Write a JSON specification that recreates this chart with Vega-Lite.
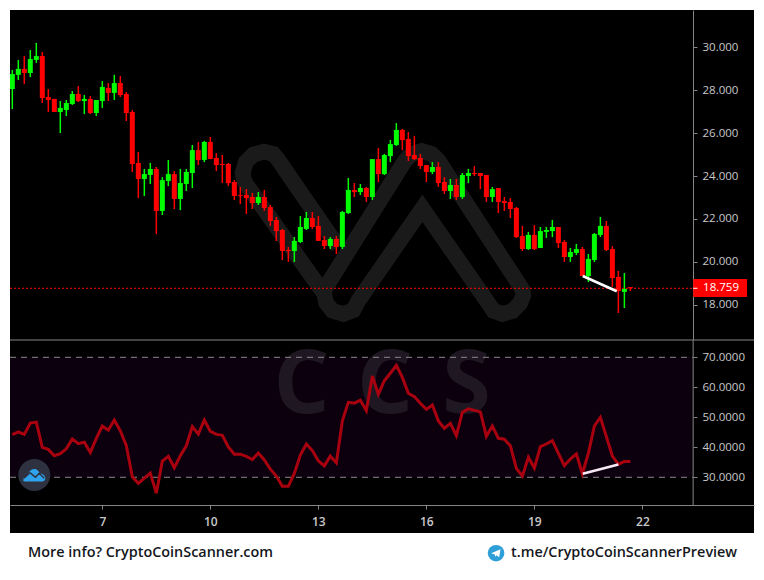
{"$schema":"https://vega.github.io/schema/vega-lite/v6.json","background":"#ffffff","padding":{"left":9,"top":10,"right":11,"bottom":0},"spacing":0,"bounds":"flush","config":{"font":"Open Sans","view":{"stroke":null},"axis":{"grid":false,"title":null,"domainColor":"#858585","tickColor":"#858585","labelColor":"#c9c9c9","labelFontSize":11.5,"labelFont":"Open Sans","domainWidth":1,"tickSize":4}},
"datasets":{"candles":[
{"day":4.5,"open":28.06,"high":28.95,"low":27.13,"close":28.76,"rsi":44.2},
{"day":4.667,"open":28.72,"high":29.42,"low":28.48,"close":29.0,"rsi":45.1},
{"day":4.833,"open":29.0,"high":29.6,"low":28.3,"close":28.81,"rsi":44.3},
{"day":5,"open":28.81,"high":29.88,"low":28.62,"close":29.46,"rsi":48.1},
{"day":5.167,"open":29.42,"high":30.21,"low":29.28,"close":29.6,"rsi":48.4},
{"day":5.333,"open":29.6,"high":29.79,"low":27.41,"close":27.64,"rsi":40.0},
{"day":5.5,"open":27.69,"high":28.06,"low":26.99,"close":27.55,"rsi":39.3},
{"day":5.667,"open":27.6,"high":27.6,"low":26.99,"close":26.99,"rsi":37.2},
{"day":5.833,"open":26.99,"high":27.5,"low":26.01,"close":27.18,"rsi":37.9},
{"day":6,"open":27.08,"high":27.55,"low":26.8,"close":27.41,"rsi":39.5},
{"day":6.167,"open":27.36,"high":27.97,"low":27.32,"close":27.83,"rsi":42.8},
{"day":6.333,"open":27.83,"high":28.2,"low":27.46,"close":27.5,"rsi":41.2},
{"day":6.5,"open":27.5,"high":27.78,"low":26.89,"close":27.6,"rsi":41.7},
{"day":6.667,"open":27.6,"high":27.74,"low":26.89,"close":26.94,"rsi":38.3},
{"day":6.833,"open":26.94,"high":27.55,"low":26.8,"close":27.55,"rsi":43.0},
{"day":7,"open":27.5,"high":28.43,"low":27.18,"close":28.16,"rsi":47.1},
{"day":7.167,"open":28.11,"high":28.34,"low":27.5,"close":27.88,"rsi":45.7},
{"day":7.333,"open":27.88,"high":28.72,"low":27.55,"close":28.34,"rsi":49.1},
{"day":7.5,"open":28.34,"high":28.67,"low":27.69,"close":27.78,"rsi":45.5},
{"day":7.667,"open":27.83,"high":27.92,"low":26.57,"close":26.94,"rsi":40.5},
{"day":7.833,"open":26.99,"high":27.08,"low":24.19,"close":24.56,"rsi":30.2},
{"day":8,"open":24.61,"high":25.12,"low":22.97,"close":23.86,"rsi":28.0},
{"day":8.167,"open":23.86,"high":24.33,"low":23.07,"close":24.09,"rsi":29.7},
{"day":8.333,"open":24.05,"high":24.61,"low":23.63,"close":24.33,"rsi":31.4},
{"day":8.5,"open":24.33,"high":24.42,"low":21.29,"close":22.37,"rsi":24.7},
{"day":8.667,"open":22.37,"high":23.95,"low":22.18,"close":23.81,"rsi":35.4},
{"day":8.833,"open":23.77,"high":24.75,"low":23.53,"close":24.09,"rsi":37.0},
{"day":9,"open":24.09,"high":24.23,"low":22.46,"close":22.93,"rsi":33.2},
{"day":9.167,"open":22.93,"high":24.33,"low":22.41,"close":23.67,"rsi":37.2},
{"day":9.333,"open":23.63,"high":24.33,"low":23.3,"close":24.19,"rsi":40.5},
{"day":9.5,"open":24.14,"high":25.45,"low":23.44,"close":25.21,"rsi":46.9},
{"day":9.667,"open":25.21,"high":25.59,"low":24.51,"close":24.75,"rsi":44.4},
{"day":9.833,"open":24.75,"high":25.64,"low":24.65,"close":25.59,"rsi":49.1},
{"day":10,"open":25.59,"high":25.82,"low":24.79,"close":24.79,"rsi":45.3},
{"day":10.167,"open":24.84,"high":25.07,"low":24.23,"close":24.51,"rsi":44.3},
{"day":10.333,"open":24.56,"high":24.98,"low":23.67,"close":24.51,"rsi":44.0},
{"day":10.5,"open":24.56,"high":24.61,"low":23.53,"close":23.67,"rsi":40.1},
{"day":10.667,"open":23.72,"high":23.81,"low":22.88,"close":23.07,"rsi":37.7},
{"day":10.833,"open":23.11,"high":23.49,"low":22.69,"close":23.07,"rsi":37.7},
{"day":11,"open":23.11,"high":23.39,"low":22.23,"close":22.97,"rsi":37.0},
{"day":11.167,"open":23.02,"high":23.21,"low":22.46,"close":22.74,"rsi":35.9},
{"day":11.333,"open":22.74,"high":23.25,"low":22.65,"close":23.02,"rsi":38.1},
{"day":11.5,"open":23.02,"high":23.35,"low":22.37,"close":22.51,"rsi":35.8},
{"day":11.667,"open":22.55,"high":22.65,"low":21.67,"close":21.9,"rsi":32.7},
{"day":11.833,"open":21.95,"high":22.09,"low":20.97,"close":21.43,"rsi":30.4},
{"day":12,"open":21.48,"high":21.53,"low":20.08,"close":20.5,"rsi":27.0},
{"day":12.167,"open":20.55,"high":20.69,"low":19.99,"close":20.5,"rsi":27.0},
{"day":12.333,"open":20.5,"high":21.15,"low":19.99,"close":20.97,"rsi":31.3},
{"day":12.5,"open":20.92,"high":22.13,"low":20.87,"close":21.62,"rsi":37.4},
{"day":12.667,"open":21.53,"high":22.32,"low":21.48,"close":22.04,"rsi":41.1},
{"day":12.833,"open":22.04,"high":22.32,"low":21.53,"close":21.62,"rsi":38.9},
{"day":13,"open":21.67,"high":22.13,"low":20.97,"close":20.97,"rsi":35.5},
{"day":13.167,"open":21.01,"high":21.2,"low":20.59,"close":20.73,"rsi":33.8},
{"day":13.333,"open":20.73,"high":21.15,"low":20.59,"close":21.06,"rsi":37.1},
{"day":13.5,"open":21.06,"high":21.2,"low":20.36,"close":20.69,"rsi":34.8},
{"day":13.667,"open":20.69,"high":22.37,"low":20.59,"close":22.32,"rsi":48.8},
{"day":13.833,"open":22.27,"high":23.91,"low":22.23,"close":23.35,"rsi":55.0},
{"day":14,"open":23.35,"high":23.67,"low":23.02,"close":23.25,"rsi":54.7},
{"day":14.167,"open":23.25,"high":23.63,"low":23.11,"close":23.44,"rsi":55.7},
{"day":14.333,"open":23.44,"high":23.49,"low":22.79,"close":23.02,"rsi":52.2},
{"day":14.5,"open":23.02,"high":24.79,"low":22.88,"close":24.79,"rsi":63.8},
{"day":14.667,"open":24.79,"high":25.31,"low":23.72,"close":24.09,"rsi":57.7},
{"day":14.833,"open":24.09,"high":25.03,"low":24.05,"close":24.98,"rsi":62.2},
{"day":15,"open":24.93,"high":25.68,"low":24.65,"close":25.49,"rsi":64.7},
{"day":15.167,"open":25.45,"high":26.47,"low":25.4,"close":26.15,"rsi":67.3},
{"day":15.333,"open":26.15,"high":26.2,"low":25.21,"close":25.68,"rsi":63.3},
{"day":15.5,"open":25.73,"high":26.05,"low":24.7,"close":24.93,"rsi":58.0},
{"day":15.667,"open":24.98,"high":25.87,"low":24.75,"close":24.79,"rsi":56.9},
{"day":15.833,"open":24.84,"high":25.03,"low":24.33,"close":24.47,"rsi":54.7},
{"day":16,"open":24.51,"high":24.51,"low":23.72,"close":24.19,"rsi":52.7},
{"day":16.167,"open":24.19,"high":24.65,"low":24.09,"close":24.42,"rsi":54.1},
{"day":16.333,"open":24.42,"high":24.65,"low":23.49,"close":23.67,"rsi":48.8},
{"day":16.5,"open":23.72,"high":23.95,"low":23.16,"close":23.3,"rsi":46.3},
{"day":16.667,"open":23.3,"high":23.86,"low":22.93,"close":23.58,"rsi":48.0},
{"day":16.833,"open":23.58,"high":23.86,"low":22.88,"close":23.02,"rsi":43.9},
{"day":17,"open":23.02,"high":24.14,"low":22.93,"close":24.05,"rsi":51.7},
{"day":17.167,"open":24.0,"high":24.33,"low":23.67,"close":24.14,"rsi":52.8},
{"day":17.333,"open":24.14,"high":24.47,"low":24.0,"close":24.09,"rsi":52.3},
{"day":17.5,"open":24.14,"high":24.14,"low":23.39,"close":24.0,"rsi":51.8},
{"day":17.667,"open":24.05,"high":24.05,"low":22.79,"close":23.02,"rsi":43.7},
{"day":17.833,"open":23.02,"high":23.49,"low":22.79,"close":23.39,"rsi":47.1},
{"day":18,"open":23.44,"high":23.44,"low":22.27,"close":22.79,"rsi":43.0},
{"day":18.167,"open":22.83,"high":23.02,"low":22.37,"close":22.74,"rsi":42.7},
{"day":18.333,"open":22.79,"high":22.97,"low":22.04,"close":22.46,"rsi":40.5},
{"day":18.5,"open":22.51,"high":22.55,"low":21.11,"close":21.15,"rsi":33.0},
{"day":18.667,"open":21.2,"high":21.67,"low":20.5,"close":20.59,"rsi":30.4},
{"day":18.833,"open":20.59,"high":21.39,"low":20.55,"close":21.25,"rsi":36.7},
{"day":19,"open":21.25,"high":21.71,"low":20.55,"close":20.59,"rsi":33.1},
{"day":19.167,"open":20.64,"high":21.62,"low":20.64,"close":21.43,"rsi":40.2},
{"day":19.333,"open":21.39,"high":21.62,"low":21.11,"close":21.48,"rsi":41.1},
{"day":19.5,"open":21.43,"high":21.95,"low":21.15,"close":21.62,"rsi":42.2},
{"day":19.667,"open":21.62,"high":21.62,"low":20.64,"close":20.87,"rsi":38.0},
{"day":19.833,"open":20.92,"high":21.01,"low":19.99,"close":20.22,"rsi":33.9},
{"day":20,"open":20.22,"high":20.64,"low":19.99,"close":20.45,"rsi":36.1},
{"day":20.167,"open":20.41,"high":20.83,"low":20.31,"close":20.59,"rsi":37.8},
{"day":20.333,"open":20.59,"high":20.69,"low":19.33,"close":19.33,"rsi":31.2},
{"day":20.5,"open":19.33,"high":20.36,"low":19.05,"close":20.13,"rsi":38.0},
{"day":20.667,"open":20.08,"high":21.34,"low":19.99,"close":21.29,"rsi":47.1},
{"day":20.833,"open":21.25,"high":22.09,"low":21.15,"close":21.67,"rsi":50.0},
{"day":21,"open":21.67,"high":21.9,"low":20.5,"close":20.55,"rsi":43.5},
{"day":21.167,"open":20.59,"high":20.73,"low":18.82,"close":19.24,"rsi":37.1},
{"day":21.333,"open":19.29,"high":19.57,"low":17.61,"close":18.63,"rsi":34.3},
{"day":21.5,"open":18.59,"high":19.47,"low":17.84,"close":18.73,"rsi":35.3},
{"day":21.667,"open":18.82,"high":18.82,"low":18.63,"close":18.76,"rsi":35.3}
],
"logo":[
{"k":1,"day":13.547,"v":20.7},{"k":2,"day":11.954,"v":24.59},{"k":3,"day":11.89,"v":24.75},{"k":4,"day":11.75,"v":25.03},{"k":5,"day":11.49,"v":25.14},{"k":6,"day":11.195,"v":25.0},{"k":7,"day":10.982,"v":24.64},{"k":8,"day":10.899,"v":24.14},{"k":9,"day":10.936,"v":23.81},{"k":10,"day":11.01,"v":23.58},{"k":11,"day":13.158,"v":18.52},{"k":12,"day":13.214,"v":18.09},{"k":13,"day":13.39,"v":17.71},{"k":14,"day":13.695,"v":17.56},{"k":15,"day":13.973,"v":17.74},{"k":16,"day":14.112,"v":18.18},{"k":17,"day":15.89,"v":22.49},{"k":18,"day":17.723,"v":18.06},{"k":19,"day":17.862,"v":17.71},{"k":20,"day":18.112,"v":17.56},{"k":21,"day":18.39,"v":17.7},{"k":22,"day":18.602,"v":18.06},{"k":23,"day":18.695,"v":18.45},{"k":24,"day":18.676,"v":18.68},{"k":25,"day":16.334,"v":24.72},{"k":26,"day":16.149,"v":25.03},{"k":27,"day":15.871,"v":25.17},{"k":28,"day":15.593,"v":25.03},{"k":29,"day":15.408,"v":24.72},{"k":30,"day":13.158,"v":18.68}
]},
"vconcat":[
{"width":744,"height":330,"view":{"fill":"#000000"},"layer":[
{"data":{"name":"logo"},"mark":{"type":"line","color":"#1a1a1a","strokeWidth":15.7,"strokeJoin":"miter","strokeCap":"butt"},"encoding":{"order":{"field":"k","type":"quantitative"},"x":{"field":"day","type":"quantitative","scale":{"domain":[4.436,25.1],"nice":false,"zero":false,"padding":0},"axis":null},"y":{"field":"v","type":"quantitative","scale":{"domain":[16.345,31.75],"nice":false,"zero":false},"axis":{"title":null,"orient":"right","offset":-61,"values":[18,20,22,24,26,28,30],"format":".3f","labelPadding":5}}}},
{"data":{"name":"candles"},"mark":{"type":"rule","strokeWidth":1.5,"clip":true},"encoding":{"x":{"field":"day","type":"quantitative"},"y":{"field":"low","type":"quantitative"},"y2":{"field":"high"},"color":{"condition":{"test":"datum.close>=datum.open","value":"#00ff00"},"value":"#ff0000"}}},
{"data":{"name":"candles"},"mark":{"type":"bar","size":5,"orient":"vertical","clip":true},"encoding":{"x":{"field":"day","type":"quantitative"},"y":{"field":"open","type":"quantitative"},"y2":{"field":"close"},"color":{"condition":{"test":"datum.close>=datum.open","value":"#00ff00"},"value":"#ff0000"}}},
{"data":{"values":[{"x1":4.436,"x2":23.41,"v":18.759}]},"mark":{"type":"rule","color":"#ff0000","strokeWidth":1,"strokeDash":[2,2]},"encoding":{"x":{"field":"x1","type":"quantitative"},"x2":{"field":"x2"},"y":{"field":"v","type":"quantitative"}}},
{"data":{"values":[{"day":20.344,"v":19.33},{"day":21.289,"v":18.62}]},"mark":{"type":"line","color":"#ffffff","strokeWidth":2.6},"encoding":{"x":{"field":"day","type":"quantitative"},"y":{"field":"v","type":"quantitative"}}},
{"data":{"values":[{"x1":23.41,"x2":24.908,"v1":19.19,"v2":18.35}]},"mark":{"type":"rect","color":"#ff0000"},"encoding":{"x":{"field":"x1","type":"quantitative"},"x2":{"field":"x2"},"y":{"field":"v1","type":"quantitative"},"y2":{"field":"v2"}}},
{"data":{"values":[{"x1":23.41,"x2":23.53,"v":18.759}]},"mark":{"type":"rule","color":"#ffffff","strokeWidth":1},"encoding":{"x":{"field":"x1","type":"quantitative"},"x2":{"field":"x2"},"y":{"field":"v","type":"quantitative"}}},
{"data":{"values":[{"day":23.686,"v":18.759,"label":"18.759"}]},"mark":{"type":"text","align":"left","baseline":"middle","color":"#ffffff","fontSize":11.5,"font":"Open Sans"},"encoding":{"x":{"field":"day","type":"quantitative"},"y":{"field":"v","type":"quantitative"},"text":{"field":"label"}}}
]},
{"width":744,"height":193,"view":{"fill":"#000000"},"layer":[
{"data":{"values":[{"x1":4.436,"x2":23.41,"v1":70,"v2":30}]},"mark":{"type":"rect","color":"#0c000f"},"encoding":{"x":{"field":"x1","type":"quantitative","scale":{"domain":[4.436,25.1],"nice":false,"zero":false},"axis":{"title":null,"orient":"bottom","offset":-28,"values":[7,10,13,16,19,22],"format":"d","labelPadding":7,"labelFontWeight":600,"labelFontSize":12}},"x2":{"field":"x2"},"y":{"field":"v1","type":"quantitative","scale":{"domain":[11.43,75.77],"nice":false,"zero":false},"axis":{"title":null,"orient":"right","offset":-61,"values":[30,40,50,60,70],"format":".4f","domain":false,"labelPadding":5}},"y2":{"field":"v2"}}},
{"data":{"values":[{"day":12.533,"v":60.1,"c":"C"},{"day":14.853,"v":60.1,"c":"C"},{"day":17.117,"v":60.1,"c":"S"}]},"mark":{"type":"text","align":"center","baseline":"middle","color":"#1f1822","fontSize":88,"fontWeight":700,"font":"Open Sans"},"encoding":{"x":{"field":"day","type":"quantitative"},"y":{"field":"v","type":"quantitative"},"text":{"field":"c"}}},
{"data":{"values":[{"x1":4.436,"x2":23.41,"v":70},{"x1":4.436,"x2":23.41,"v":30}]},"mark":{"type":"rule","color":"#8a8a8a","strokeWidth":1,"strokeDash":[6,5]},"encoding":{"x":{"field":"x1","type":"quantitative"},"x2":{"field":"x2"},"y":{"field":"v","type":"quantitative"}}},
{"data":{"values":[{"x":23.41,"v1":75.77,"v2":20.77}]},"mark":{"type":"rule","color":"#858585","strokeWidth":1},"encoding":{"x":{"field":"x","type":"quantitative"},"y":{"field":"v1","type":"quantitative"},"y2":{"field":"v2"}}},
{"data":{"values":[{"x1":4.436,"x2":25.1,"v":75.77}]},"mark":{"type":"rule","color":"#858585","strokeWidth":1},"encoding":{"x":{"field":"x1","type":"quantitative"},"x2":{"field":"x2"},"y":{"field":"v","type":"quantitative"}}},
{"data":{"name":"candles"},"mark":{"type":"line","color":"#a8000f","strokeWidth":3,"clip":true},"encoding":{"x":{"field":"day","type":"quantitative"},"y":{"field":"rsi","type":"quantitative"}}},
{"data":{"values":[{"day":20.344,"v":31.2},{"day":21.333,"v":34.3}]},"mark":{"type":"line","color":"#f8e8f4","strokeWidth":2.6},"encoding":{"x":{"field":"day","type":"quantitative"},"y":{"field":"v","type":"quantitative"}}},
{"data":{"values":[{"day":5.111,"v":30.77}]},"mark":{"type":"point","shape":"circle","filled":true,"opacity":1,"size":1024,"color":"#2e3240"},"encoding":{"x":{"field":"day","type":"quantitative"},"y":{"field":"v","type":"quantitative"}}},
{"data":{"values":[{"day":5.111,"v":30.77}]},"mark":{"type":"point","shape":"M-1,0.5 C-1,0.25 -0.85,0.1 -0.65,0.1 C-0.55,-0.25 -0.3,-0.55 0,-0.55 C0.3,-0.55 0.45,-0.3 0.5,-0.1 C0.8,-0.15 1,0.1 1,0.3 C1,0.5 0.85,0.6 0.7,0.6 L-0.8,0.6 C-0.9,0.6 -1,0.55 -1,0.5 Z","filled":true,"opacity":1,"size":484,"color":"#2fa3ee"},"encoding":{"x":{"field":"day","type":"quantitative"},"y":{"field":"v","type":"quantitative"}}},
{"data":{"values":[{"day":5.111,"v":30.77}]},"mark":{"type":"point","shape":"M-0.95,0.3 L-0.4,-0.2 L0.1,0.2 L0.45,-0.15 L0.9,0.3","filled":false,"opacity":1,"size":484,"strokeWidth":1.5,"color":"#2e3240"},"encoding":{"x":{"field":"day","type":"quantitative"},"y":{"field":"v","type":"quantitative"}}}
]},
{"width":744,"height":47,"layer":[
{"data":{"values":[{"day":4.936,"pos":0.585,"label":"More info? CryptoCoinScanner.com"},{"day":18.352,"pos":0.585,"label":"t.me/CryptoCoinScannerPreview"}]},"mark":{"type":"text","align":"left","baseline":"middle","color":"#14171c","fontSize":14.4,"fontWeight":600,"font":"Open Sans"},"encoding":{"x":{"field":"day","type":"quantitative","scale":{"domain":[4.436,25.1],"nice":false,"zero":false},"axis":null},"y":{"field":"pos","type":"quantitative","scale":{"domain":[0,1],"nice":false},"axis":null},"text":{"field":"label"}}},
{"data":{"values":[{"day":17.936,"pos":0.57}]},"mark":{"type":"point","shape":"circle","filled":true,"opacity":1,"size":275,"color":"#2f9fd8"},"encoding":{"x":{"field":"day","type":"quantitative"},"y":{"field":"pos","type":"quantitative"}}},
{"data":{"values":[{"day":17.936,"pos":0.57}]},"mark":{"type":"point","shape":"M-0.6,0 L0.55,-0.5 L0.38,0.5 L0.05,0.25 L-0.12,0.45 L-0.15,0.15 Z","filled":true,"opacity":1,"size":260,"color":"#ffffff"},"encoding":{"x":{"field":"day","type":"quantitative"},"y":{"field":"pos","type":"quantitative"}}}
]}
]}
